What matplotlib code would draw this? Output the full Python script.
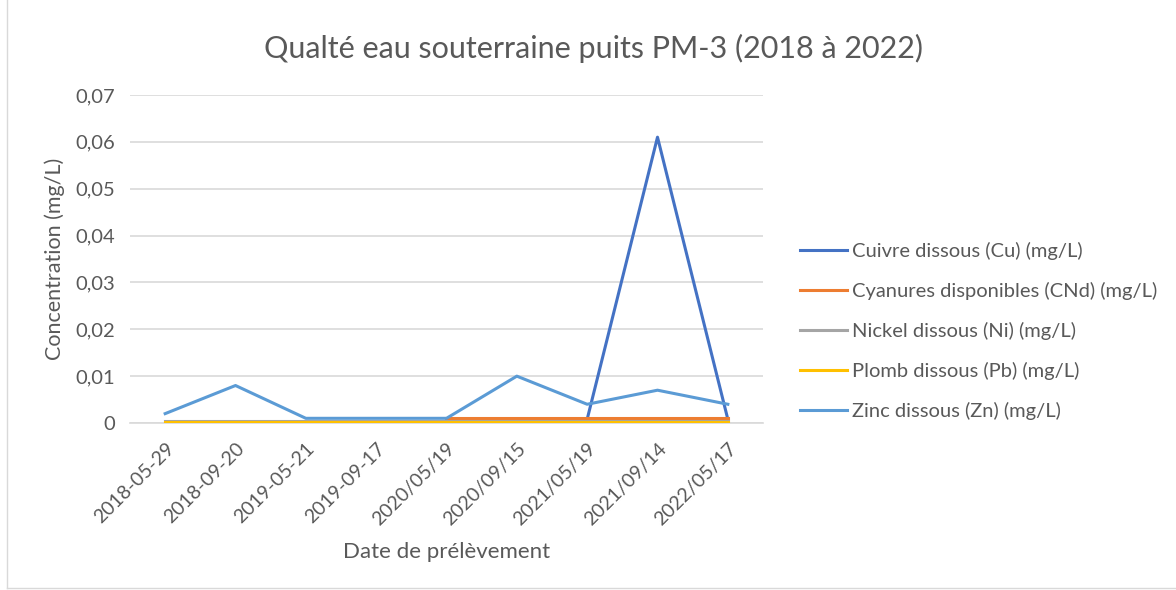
import numpy as np
import matplotlib
matplotlib.use("Agg")
import matplotlib.pyplot as plt
from matplotlib.lines import Line2D

dates = ["2018-05-29", "2018-09-20", "2019-05-21", "2019-09-17", "2020/05/19",
         "2020/09/15", "2021/05/19", "2021/09/14", "2022/05/17"]
nan = np.nan
cuivre = [nan, nan, nan, nan, nan, nan, 0.0008, 0.061, 0.0008]
cyanures = [nan, nan, nan, nan, 0.001, 0.001, 0.001, 0.001, 0.001]
nickel = [0.0005, 0.0005, 0.0005, 0.0005, 0.0005, 0.0005, 0.0005, 0.0005, 0.0005]
plomb = [0.0002, 0.0002, 0.0002, 0.0002, 0.0002, 0.0002, 0.0002, 0.0002, 0.0002]
zinc = [0.002, 0.008, 0.001, 0.001, 0.001, 0.010, 0.004, 0.007, 0.004]

series = [
    ("Cuivre dissous (Cu) (mg/L)", cuivre, "#4472C4"),
    ("Cyanures disponibles (CNd) (mg/L)", cyanures, "#ED7D31"),
    ("Nickel dissous (Ni) (mg/L)", nickel, "#A5A5A5"),
    ("Plomb dissous (Pb) (mg/L)", plomb, "#FFC000"),
    ("Zinc dissous (Zn) (mg/L)", zinc, "#5B9BD5"),
]

plt.rcParams['font.family'] = ['Lato', 'DejaVu Sans']
txt = "#595959"

fig = plt.figure(figsize=(11.76, 5.90), dpi=100)
ax = fig.add_axes([130/1176, 1-423/590, 633/1176, 328/590])
x = np.arange(len(dates))
handles = []
for i, (name, vals, col) in enumerate(series):
    ln, = ax.plot(x, vals, color=col, lw=2.2, label=name, zorder=3 + i)
    handles.append(ln)

ax.set_xlim(-0.5, len(dates) - 0.5)
ax.set_ylim(0, 0.07)
yt = np.arange(0, 0.0701, 0.01)
ax.set_yticks(yt)
ax.set_yticklabels(["0" if v == 0 else f"{v:.2f}".replace(".", ",") for v in yt],
                   fontsize=14.5, color=txt)
ax.set_xticks(x)
ax.set_xticklabels(dates, rotation=45, ha="right", rotation_mode="anchor",
                   fontsize=14, color=txt)
ax.tick_params(axis="y", length=0, pad=11)
ax.tick_params(axis="x", length=0, pad=12)
ax.grid(axis="y", color="#D9D9D9", lw=1.2, zorder=0)
for s in ["top", "right", "left"]:
    ax.spines[s].set_visible(False)
ax.spines["bottom"].set_color("#D9D9D9")
ax.spines["bottom"].set_linewidth(1.2)

ax.set_xlabel("Date de prélèvement", fontsize=16, color=txt, labelpad=10)
ax.set_ylabel("Concentration (mg/L)", fontsize=15.5, color=txt, labelpad=7)
fig.text(594/1176, 1-48/590, "Qualté eau souterraine puits PM-3 (2018 à 2022)",
         ha="center", va="center", fontsize=22, color=txt)

leg = fig.legend(handles=handles, loc="center left",
                 bbox_to_anchor=(782/1176, 1-331/590), frameon=False,
                 fontsize=14.5, labelspacing=1.1, handlelength=2.35,
                 handletextpad=0.25, labelcolor=txt)

# chart border
fig.add_artist(Line2D([7/1176, 7/1176], [2/590, 1], color="#D9D9D9", lw=1))
fig.add_artist(Line2D([7/1176, 1], [2/590, 2/590], color="#D9D9D9", lw=1))

fig.savefig("out.png", dpi=100)
